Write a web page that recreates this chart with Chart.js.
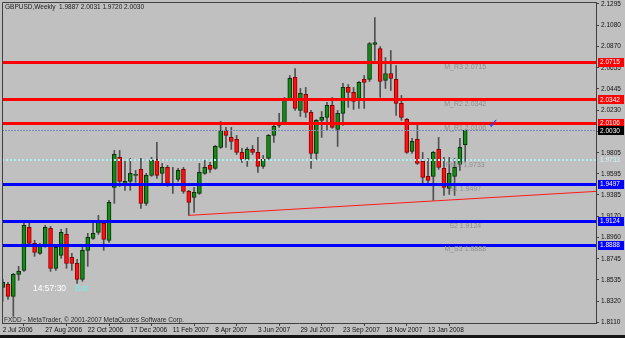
<!DOCTYPE html>
<html><head><meta charset="utf-8">
<script src="https://cdn.jsdelivr.net/npm/chart.js@4.4.0/dist/chart.umd.min.js"></script>
<style>html,body{margin:0;padding:0;background:#c0c0c0;overflow:hidden}canvas{display:block}</style>
</head><body>
<canvas id="c" width="625" height="338"></canvas>
<script>
// ---- data (GBPUSD weekly) ----
const opens = [1.846,1.849,1.837,1.859,1.863,1.906,1.890,1.880,1.888,1.905,
1.865,1.878,1.899,1.876,1.870,1.854,1.883,1.895,1.901,1.910,
1.893,1.946,1.976,1.950,1.952,1.958,1.964,1.930,1.958,1.974,
1.960,1.966,1.948,1.954,1.964,1.942,1.936,1.940,1.960,1.968,
1.965,1.986,2.003,1.996,1.994,1.981,1.974,1.984,1.981,1.967,
1.975,1.998,2.008,2.010,2.034,2.056,2.023,2.039,2.021,1.980,
2.013,2.016,2.028,2.004,2.020,2.046,2.041,2.035,2.054,2.054,
2.089,2.085,2.053,2.060,2.054,2.030,2.014,1.982,1.994,1.972,
1.957,1.957,1.984,1.965,1.945,1.957,1.969,1.9887];
const highs = [1.854,1.851,1.860,1.867,1.911,1.912,1.893,1.890,1.908,1.907,
1.889,1.904,1.905,1.880,1.874,1.887,1.900,1.912,1.918,1.913,
1.933,1.983,1.983,1.972,1.975,1.963,1.975,1.960,1.976,1.991,
1.970,1.968,1.966,1.965,1.966,1.943,1.946,1.970,1.973,1.971,
1.988,2.012,2.006,2.006,1.998,1.985,1.986,1.988,1.996,1.978,
1.999,2.008,2.020,2.036,2.058,2.065,2.045,2.046,2.023,2.014,
2.022,2.031,2.036,2.023,2.050,2.049,2.046,2.052,2.058,2.091,
2.116,2.087,2.076,2.083,2.068,2.038,2.015,1.995,2.009,1.981,
1.975,1.982,1.996,1.976,1.976,1.975,1.995,2.0031];
const lows = [1.832,1.834,1.817,1.853,1.862,1.887,1.877,1.879,1.886,1.862,
1.863,1.875,1.865,1.863,1.850,1.852,1.867,1.894,1.899,1.883,
1.891,1.930,1.947,1.943,1.943,1.951,1.925,1.928,1.957,1.955,
1.948,1.947,1.940,1.952,1.940,1.918,1.921,1.939,1.959,1.961,
1.964,1.985,1.986,1.984,1.979,1.971,1.967,1.979,1.961,1.965,
1.974,1.991,2.006,2.009,2.033,2.023,2.017,2.016,1.965,1.974,
1.996,2.003,2.005,1.987,2.008,2.026,2.024,2.025,2.025,2.052,
2.073,2.036,2.045,2.043,2.018,2.013,1.980,1.980,1.969,1.948,
1.950,1.933,1.964,1.938,1.939,1.938,1.963,1.9720];
const closes = [1.851,1.837,1.859,1.862,1.908,1.890,1.881,1.887,1.906,1.865,
1.886,1.901,1.870,1.870,1.854,1.883,1.896,1.900,1.911,1.894,
1.931,1.979,1.952,1.952,1.960,1.958,1.930,1.958,1.973,1.958,
1.966,1.950,1.950,1.963,1.942,1.931,1.941,1.961,1.966,1.964,
1.987,2.003,1.998,1.992,1.981,1.974,1.984,1.981,1.967,1.974,
1.998,2.007,2.011,2.034,2.055,2.025,2.040,2.021,1.980,2.013,
2.016,2.028,2.006,2.020,2.046,2.041,2.032,2.051,2.051,2.090,
2.091,2.052,2.060,2.055,2.030,2.016,1.981,1.992,1.970,1.956,
1.953,1.981,1.966,1.946,1.960,1.966,1.986,2.0030];

const xTickIdx = [0,8,16,24,32,40,48,56,64,72,80];
const xTickLabels = ['2 Jul 2006','27 Aug 2006','22 Oct 2006','17 Dec 2006','11 Feb 2007','8 Apr 2007','3 Jun 2007','29 Jul 2007','23 Sep 2007','18 Nov 2007','13 Jan 2008'];
const yTickValues = [1.8110,1.8320,1.8535,1.8745,1.8960,1.9170,1.9385,1.9595,1.9805,2.0020,2.0230,2.0445,2.0655,2.0870,2.1080,2.1295];

const resistLevels = [2.0715, 2.0342, 2.0106];
const resistNames = ['M_R3','M_R2','M_R1'];
const supportLevels = [1.9497, 1.9124, 1.8888];
const supportNames = ['S1','S2','M_S3'];
const pivotLevel = 1.9733;
const bidPrice = 2.0030;
const trendX = [35, 111.6];
const trendY = [1.918, 1.942];

const FONT = "'Liberation Sans', Arial, sans-serif";
Chart.defaults.font.family = FONT;
Chart.defaults.font.size = 6.5;
Chart.defaults.color = '#111';

const isUp = opens.map((o,i)=>closes[i] >= o);
const bodyData = opens.map((o,i)=>({x:i, y:[Math.min(o,closes[i]), Math.max(o,closes[i])]}));
const wickData = opens.map((o,i)=>({x:i, y:[lows[i], highs[i]]}));

const overlay = {
  id:'overlay',
  beforeDraw(chart){
    const ctx = chart.ctx;
    ctx.save();
    ctx.fillStyle = '#c0c0c0';
    ctx.fillRect(0,0,chart.width,chart.height);
    ctx.fillStyle = '#151515';
    ctx.fillRect(0,335,chart.width,3);
    ctx.restore();
  },
  afterDatasetsDraw(chart){
    const {ctx, chartArea:a, scales:{x,y}} = chart;
    ctx.save();
    ctx.beginPath(); ctx.rect(a.left,a.top,a.right-a.left,a.bottom-a.top); ctx.clip();
    const hline = (v,color,w,dash)=>{
      const py = Math.round(y.getPixelForValue(v)) + (w%2 ? 0.5 : 0);
      ctx.beginPath(); ctx.setLineDash(dash||[]); ctx.strokeStyle=color; ctx.lineWidth=w;
      ctx.moveTo(a.left,py); ctx.lineTo(a.right,py); ctx.stroke();
    };
    hline(pivotLevel,'#a8f4f4',2,[2,2]);
    hline(bidPrice,'#7888b8',1,[2,1]);
    resistLevels.forEach(v=>hline(v,'#ff0000',3));
    supportLevels.forEach(v=>hline(v,'#0000ff',3));
    ctx.setLineDash([]);
    // level captions
    ctx.font = '7px ' + FONT;
    ctx.fillStyle = '#8e8e8e';
    ctx.textAlign='center'; ctx.textBaseline='middle';
    const cx = x.getPixelForValue(87);
    resistLevels.forEach((v,i)=>ctx.fillText(resistNames[i]+' '+v.toFixed(4), cx, y.getPixelForValue(v)+5));
    ctx.fillText('Pivot '+pivotLevel.toFixed(4), cx, y.getPixelForValue(pivotLevel)+5);
    supportLevels.forEach((v,i)=>ctx.fillText(supportNames[i]+' '+v.toFixed(4), cx, y.getPixelForValue(v)+5));
    // check mark
    ctx.font = '13px DejaVu Sans';
    ctx.fillStyle = '#2040ff';
    ctx.fillText('\u2713', x.getPixelForValue(92.3), y.getPixelForValue(2.0085));
    // clock
    ctx.textAlign='left';
    ctx.font = '8.5px ' + FONT;
    ctx.fillStyle = '#ffffff';
    ctx.fillText('14:57:30', 33, 289);
    ctx.fillStyle = '#7fe8e8';
    ctx.fillText('Bar:', 75, 289);
    ctx.restore();
  },
  afterDraw(chart){
    const {ctx, chartArea:a, scales:{y}} = chart;
    ctx.save();
    // frame
    ctx.strokeStyle='#404040'; ctx.lineWidth=1;
    ctx.beginPath();
    ctx.moveTo(a.left+0.5,a.bottom); ctx.lineTo(a.left+0.5,a.top+0.5); ctx.lineTo(a.right,a.top+0.5);
    ctx.stroke();
    // price boxes
    ctx.font = '6.5px ' + FONT;
    ctx.textBaseline='middle'; ctx.textAlign='left';
    const box = (v,bg,fg)=>{
      const py = y.getPixelForValue(v);
      if(bg){ ctx.fillStyle=bg; ctx.fillRect(598, Math.round(py)-4, 26, 9); }
      ctx.fillStyle=fg; ctx.fillText(v.toFixed(4), 600, py+0.5);
    };
    resistLevels.forEach(v=>box(v,'#ff0000','#ffffff'));
    supportLevels.forEach(v=>box(v,'#0000ff','#ffffff'));
    box(bidPrice,'#000000','#ffffff');
    box(pivotLevel,null,'#d4f4f4');
    // header + copyright
    ctx.fillStyle='#1a1a1a';
    ctx.fillText('GBPUSD,Weekly  '+opens[87].toFixed(4)+' '+highs[87].toFixed(4)+' '+lows[87].toFixed(4)+' '+closes[87].toFixed(4), 5, 7.5);
    ctx.fillStyle='#2a2a2a';
    ctx.fillText('FXDD - MetaTrader, \u00a9 2001-2007 MetaQuotes Software Corp.', 4, 320);
    ctx.restore();
  }
};

new Chart(document.getElementById('c'), {
  data: {
    datasets: [
      { type:'line', data: trendX.map((v,i)=>({x:v, y:trendY[i]})), borderColor:'#ff1a1a', borderWidth:1, pointRadius:0, fill:false, order:-1 },
      { type:'bar', data: bodyData, backgroundColor: isUp.map(u=>u?'#128c12':'#ff1010'), borderColor: isUp.map(u=>u?'#0c300c':'#8a0000'), borderWidth:1, borderSkipped:false, barThickness:4, minBarLength:1, grouped:false, order:0 },
      { type:'bar', data: wickData, backgroundColor:'#505050', borderWidth:0, barThickness:1, grouped:false, order:1 }
    ]
  },
  options: {
    responsive:false, animation:false, devicePixelRatio:1,
    layout:{padding:{left:2, top:2, right:0, bottom:0}},
    plugins:{legend:{display:false}, tooltip:{enabled:false}},
    scales:{
      x:{ type:'linear', min:-0.13, max:111.6, offset:false,
        grid:{drawOnChartArea:false, tickLength:3, color:'#404040'},
        border:{color:'#404040'},
        afterBuildTicks:s=>{ s.ticks = xTickIdx.map(v=>({value:v})); },
        afterFit:s=>{ s.height = 15; s.paddingLeft=0; s.paddingRight=0; },
        ticks:{ autoSkip:false, maxRotation:0, align:'start', padding:0, color:'#111',
          callback:(v)=>xTickLabels[xTickIdx.indexOf(v)] }
      },
      y:{ type:'linear', position:'right', min:1.8103, max:2.1315,
        grid:{drawOnChartArea:false, tickLength:3, color:'#404040'},
        border:{color:'#404040'},
        afterBuildTicks:s=>{ s.ticks = yTickValues.map(v=>({value:v})); },
        afterFit:s=>{ s.width = 29; s.paddingTop=0; s.paddingBottom=0; },
        ticks:{ padding:2, color:'#111', callback:v=>v.toFixed(4) }
      }
    }
  },
  plugins:[overlay]
});
</script>
</body></html>
